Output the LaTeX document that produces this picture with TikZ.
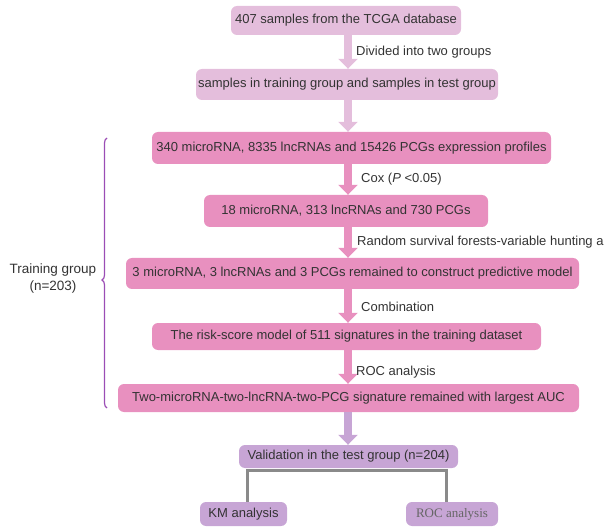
\documentclass[tikz,border=0pt]{standalone}
\usepackage{fontspec}
\setmainfont{Liberation Sans}
\newfontfamily\rocserif{Liberation Serif}
\usetikzlibrary{arrows.meta,decorations.pathreplacing}
\definecolor{lightbox}{HTML}{E4BEDC}
\definecolor{pinkbox}{HTML}{E890BF}
\definecolor{lavbox}{HTML}{C7A5D5}
\definecolor{txt}{HTML}{333333}
\definecolor{bracec}{HTML}{9B4DB5}
\definecolor{connc}{HTML}{8A8A8A}
\begin{document}
\begin{tikzpicture}[x=1pt,y=-1pt,
  box/.style={rounded corners=6pt, inner sep=0pt, text=txt, font=\fontsize{13}{15}\selectfont},
  lab/.style={anchor=west, inner sep=0pt, text=txt, font=\fontsize{13}{15}\selectfont},
  fat/.style={line width=8pt, -{Triangle[width=19pt,length=10pt]}},
  conn/.style={draw=connc, line width=3pt},
]
\useasboundingbox (0,0) rectangle (606,532);
\coordinate (ax) at (348,0);
\coordinate (lx) at (247,0);
\coordinate (rx) at (446.5,0);

\node[box, fill=lightbox, minimum width=230pt, minimum height=29pt] (b1) at (346,20.5) {407 samples from the TCGA database};
\node[box, fill=lightbox, minimum width=302pt, minimum height=31pt] (b2) at (347,84.5) {samples in training group and samples in test group};
\node[box, fill=pinkbox, minimum width=399pt, minimum height=32pt] (b3) at (351.5,148) {340 microRNA, 8335 lncRNAs and 15426 PCGs expression profiles};
\node[box, fill=pinkbox, minimum width=284pt, minimum height=32pt] (b4) at (346,211) {18 microRNA, 313 lncRNAs and 730 PCGs};
\node[box, fill=pinkbox, minimum width=453pt, minimum height=31pt] (b5) at (352.5,273.5) {3 microRNA, 3 lncRNAs and 3 PCGs remained to construct predictive model};
\node[box, fill=pinkbox, minimum width=389pt, minimum height=27pt] (b6) at (346.5,336.5) {The risk-score model of 511 signatures in the training dataset};
\node[box, fill=pinkbox, minimum width=461pt, minimum height=28pt] (b7) at (348.5,398) {Two-microRNA-two-lncRNA-two-PCG signature remained with largest AUC};
\node[box, fill=lavbox, minimum width=219pt, minimum height=23pt] (b8) at (348.5,456.5) {Validation in the test group (n=204)};
\node[box, fill=lavbox, minimum width=87pt, minimum height=24pt] (km) at (243.5,514) {KM analysis};
\node[box, fill=lavbox, minimum width=92pt, minimum height=24pt, text=txt!75, font=\rocserif\fontsize{13}{15}\selectfont] (roc) at (452,514) {ROC analysis};

\draw[fat, lightbox] (b1.south -| ax) -- (b2.north -| ax);
\draw[fat, lightbox] (b2.south -| ax) -- (b3.north -| ax);
\draw[fat, pinkbox] (b3.south -| ax) -- (b4.north -| ax);
\draw[fat, pinkbox] (b4.south -| ax) -- (b5.north -| ax);
\draw[fat, pinkbox] (b5.south -| ax) -- (b6.north -| ax);
\draw[fat, pinkbox] (b6.south -| ax) -- (b7.north -| ax);
\draw[fat, lavbox] (b7.south -| ax) -- (b8.north -| ax);

\node[lab] (l1) at (356,52) {Divided into two groups};
\node[lab] (l2) at (361,179) {Cox (\textit{P} <0.05)};
\node[lab] (l3) at (357,242) {Random survival forests-variable hunting a};
\node[lab] (l4) at (361,307) {Combination};
\node[lab] (l5) at (356,372) {ROC analysis};

\coordinate (bar) at (0,470);
\draw[conn] (km.north -| lx) -- (bar -| lx) -- (bar -| rx) -- (roc.north -| rx);

\draw[bracec, line width=1.2pt, decorate, decoration={brace, amplitude=5pt, aspect=0.474}] (107,408) -- (107,138);
\node[align=center, inner sep=0pt, text=txt, font=\fontsize{13.5}{17}\selectfont] (tg) at (53,279) {Training group\\(n=203)};
\end{tikzpicture}
\end{document}
